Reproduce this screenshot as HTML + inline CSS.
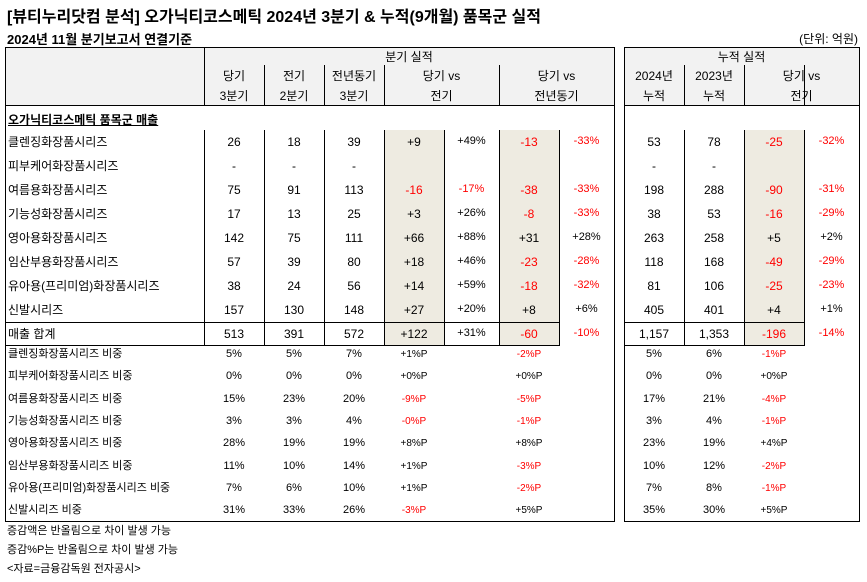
<!DOCTYPE html>
<html><head><meta charset="utf-8">
<style>
body{margin:0;width:867px;height:582px;background:#fff;position:relative;overflow:hidden;font-family:"Liberation Sans","Noto Sans CJK KR",sans-serif;color:#000}
.a{position:absolute;white-space:nowrap}
.c{text-align:center}
.r{color:#ff0000}
.ln{position:absolute;background:#000}
.sh{position:absolute;background:#eeebe1}
.hd{position:absolute;background:#f2f2f2}
</style></head><body>
<div class="a" style="left:7px;top:3px;font-size:16px;font-weight:bold">[뷰티누리닷컴 분석] 오가닉티코스메틱 2024년 3분기 &amp; 누적(9개월) 품목군 실적</div>
<div class="a" style="left:7px;top:29px;font-size:13px;font-weight:bold">2024년 11월 분기보고서 연결기준</div>
<div class="a" style="right:9px;top:30px;font-size:12px">(단위: 억원)</div>
<div id="root"></div>
<script>
const labels=["클렌징화장품시리즈","피부케어화장품시리즈","여름용화장품시리즈","기능성화장품시리즈","영아용화장품시리즈","임산부용화장품시리즈","유아용(프리미엄)화장품시리즈","신발시리즈"];
const q3=["26","-","75","17","142","57","38","157"];
const q2=["18","-","91","13","75","39","24","130"];
const q3py=["39","-","113","25","111","80","56","148"];
const dQoQ=["+9","","-16","+3","+66","+18","+14","+27"];
const pQoQ=["+49%","","-17%","+26%","+88%","+46%","+59%","+20%"];
const dYoY=["-13","","-38","-8","+31","-23","-18","+8"];
const pYoY=["-33%","","-33%","-33%","+28%","-28%","-32%","+6%"];
const cum24=["53","-","198","38","263","118","81","405"];
const cum23=["78","-","288","53","258","168","106","401"];
const dCum=["-25","","-90","-16","+5","-49","-25","+4"];
const pCum=["-32%","","-31%","-29%","+2%","-29%","-23%","+1%"];
const total=["513","391","572","+122","+31%","-60","-10%","1,157","1,353","-196","-14%"];
const sQ3=["5%","0%","15%","3%","28%","11%","7%","31%"];
const sQ2=["5%","0%","23%","3%","19%","10%","6%","33%"];
const sPY=["7%","0%","20%","4%","19%","14%","10%","26%"];
const sdQoQ=["+1%P","+0%P","-9%P","-0%P","+8%P","+1%P","+1%P","-3%P"];
const sdYoY=["-2%P","+0%P","-5%P","-1%P","+8%P","-3%P","-2%P","+5%P"];
const sC24=["5%","0%","17%","3%","23%","10%","7%","35%"];
const sC23=["6%","0%","21%","4%","19%","12%","8%","30%"];
const sdC=["-1%P","+0%P","-4%P","-1%P","+4%P","-2%P","-1%P","+5%P"];
const notes=["증감액은 반올림으로 차이 발생 가능","증감%P는 반올림으로 차이 발생 가능","<자료=금융감독원 전자공시>"];

const root=document.getElementById('root');
function box(cls,x,y,w,h,name){const d=document.createElement('div');d.className=cls;d.style.cssText=`left:${x}px;top:${y}px;width:${w}px;height:${h}px`;


root.appendChild(d);return d;}
function txt(t,x,y,w,fs,name,align){const d=document.createElement('div');d.className='a'+(t.startsWith('-')&&t.length>1?' r':'');
d.style.cssText=`left:${x}px;top:${y-Math.round(fs*0.6)}px;width:${w}px;font-size:${fs}px;line-height:${Math.round(fs*1.2)}px;text-align:${align||'center'}`;
d.textContent=t;


root.appendChild(d);return d;}
// header backgrounds
box('hd',5,48,609,57,'header-bg-quarter');box('hd',624,48,235,57,'header-bg-cumulative');
// shaded
box('sh',384,130,60,215,'shade-qoq');box('sh',499,130,60,215,'shade-yoy');box('sh',744,130,60,215,'shade-cum');
// frames
[[5,614],[624,859]].forEach(([l,r],k)=>{box('ln',l,47,r-l+1,1,'frame-top');box('ln',l,521,r-l+1,1,'frame-bottom');box('ln',l,47,1,475,'frame-left');box('ln',r,47,1,475,'frame-right');box('ln',l,105,r-l,1,'header-bottom');});
box('ln',204,47,1,58,'hdr-vline');
[264,324,384,499].forEach(x=>box('ln',x,65,1,40,'hdr-vline'));
[684,744,804].forEach(x=>box('ln',x,65,1,40,'hdr-vline'));
[204,264,324,384,444,499,559].forEach(x=>box('ln',x,130,1,216,'data-vline'));
[684,744,804].forEach(x=>box('ln',x,130,1,216,'data-vline'));
box('ln',5,322,554,1,'total-top');box('ln',5,345,554,1,'total-bottom');
box('ln',624,322,180,1,'total-top');box('ln',624,345,180,1,'total-bottom');
// header text
txt('분기 실적',204,57,410,12,'header-quarter');txt('누적 실적',624,57,235,12,'header-cumulative');
[['당기','3분기',204,60],['전기','2분기',264,60],['전년동기','3분기',324,60],['당기 vs','전기',384,115],['당기 vs','전년동기',499,115],['2024년','누적',624,60],['2023년','누적',684,60],['당기 vs','전기',744,115]].forEach(h=>{txt(h[0],h[2],76,h[3],12,'column-header');txt(h[1],h[2],96,h[3],12,'column-header');});
const sec=txt('오가닉티코스메틱 품목군 매출',8,120,300,12,'section-title','left');sec.style.fontWeight='bold';sec.style.textDecoration='underline';
labels.forEach((l,i)=>{const y=142+24*i;
txt(l,8,y,195,12,'row-label','left');
txt(q3[i],204,y,60,12,'q3-value');txt(q2[i],264,y,60,12,'q2-value');txt(q3py[i],324,y,60,12,'q3py-value');
txt(dQoQ[i],384,y,60,12,'qoq-diff');txt(pQoQ[i],444,y,55,11,'qoq-pct');
txt(dYoY[i],499,y,60,12,'yoy-diff');txt(pYoY[i],559,y,55,11,'yoy-pct');
txt(cum24[i],624,y,60,12,'cum2024-value');txt(cum23[i],684,y,60,12,'cum2023-value');
txt(dCum[i],744,y,60,12,'cum-diff');txt(pCum[i],804,y,55,11,'cum-pct');});
txt('매출 합계',8,334,195,12,'total-label','left');
const tx=[[204,60,12],[264,60,12],[324,60,12],[384,60,12],[444,55,11],[499,60,12],[559,55,11],[624,60,12],[684,60,12],[744,60,12],[804,55,11]];
total.forEach((t,i)=>txt(t,tx[i][0],334,tx[i][1],tx[i][2],'total-value'));
labels.forEach((l,i)=>{const y=355+22.3*i;
txt(l+' 비중',8,y,195,11,'share-label','left');
txt(sQ3[i],204,y,60,11,'share-q3');txt(sQ2[i],264,y,60,11,'share-q2');txt(sPY[i],324,y,60,11,'share-q3py');
txt(sdQoQ[i],384,y,60,10,'share-qoq');txt(sdYoY[i],499,y,60,10,'share-yoy');
txt(sC24[i],624,y,60,11,'share-cum2024');txt(sC23[i],684,y,60,11,'share-cum2023');txt(sdC[i],744,y,60,10,'share-cum-diff');});
notes.forEach((n,i)=>{const d=txt(n,7,532+19*i,400,11,'footnote','left');d.className='a';});
</script>
</body></html>
